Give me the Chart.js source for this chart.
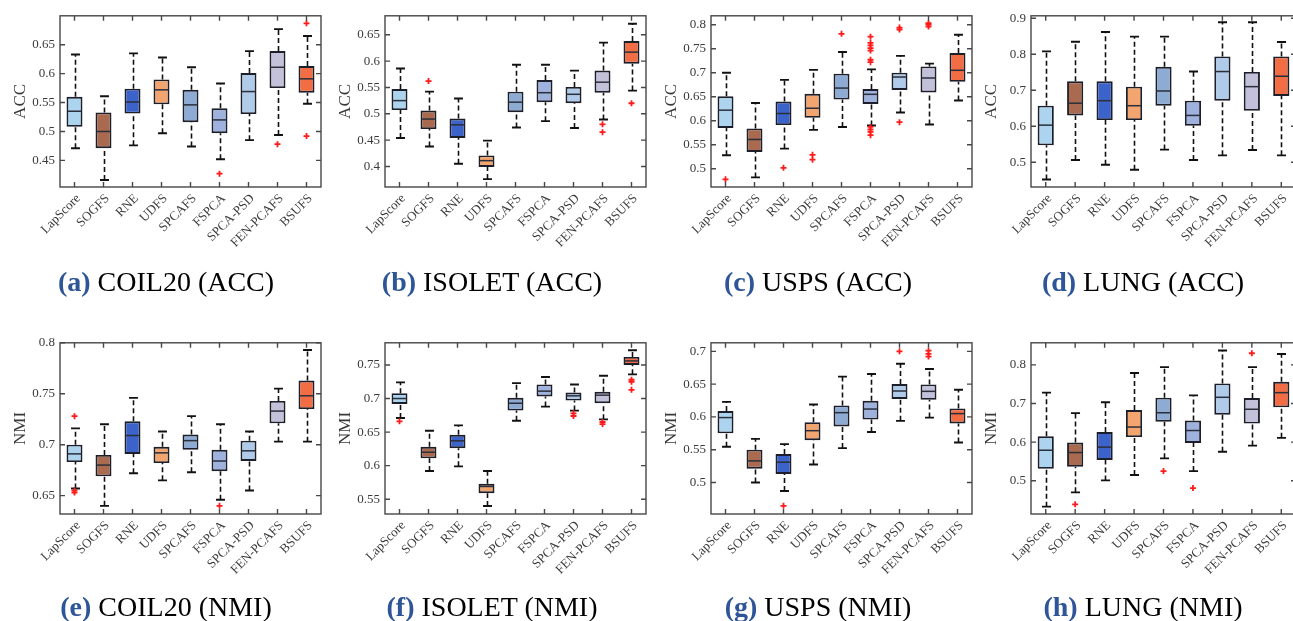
<!DOCTYPE html>
<html>
<head>
<meta charset="utf-8">
<script src="https://cdn.jsdelivr.net/npm/chart.js@4.4.1/dist/chart.umd.min.js"></script>
<style>
  html, body { margin: 0; padding: 0; background: #fff; width: 1293px; height: 621px; overflow: hidden; position: relative; }
  canvas { position: absolute; }
  .cap { position: absolute; font-family: "Liberation Serif", serif; font-size: 28px; line-height: 1; white-space: nowrap; transform: translateX(-50%); color: #000; }
  .cap b { color: #2e5597; }
</style>
</head>
<body>
<div class="cap" style="left:166px;top:268px"><b>(a)</b> COIL20 (ACC)</div>
<div class="cap" style="left:492px;top:268px"><b>(b)</b> ISOLET (ACC)</div>
<div class="cap" style="left:818px;top:268px"><b>(c)</b> USPS (ACC)</div>
<div class="cap" style="left:1143px;top:268px"><b>(d)</b> LUNG (ACC)</div>
<div class="cap" style="left:166px;top:593px"><b>(e)</b> COIL20 (NMI)</div>
<div class="cap" style="left:492px;top:593px"><b>(f)</b> ISOLET (NMI)</div>
<div class="cap" style="left:818px;top:593px"><b>(g)</b> USPS (NMI)</div>
<div class="cap" style="left:1143px;top:593px"><b>(h)</b> LUNG (NMI)</div>
<script>
const methods = ["LapScore", "SOGFS", "RNE", "UDFS", "SPCAFS", "FSPCA", "SPCA-PSD", "FEN-PCAFS", "BSUFS"];
const boxColors = ["#acd4ee", "#a96a4f", "#3b63c9", "#f2a56f", "#8eabd4", "#9fb2de", "#b0cbe9", "#c3c0d9", "#f26d44"];

// Each row: [whisker low, q1, median, q3, whisker high]; outliers: [method, value]
const coil20Acc = [
  [0.471, 0.508, 0.535, 0.560, 0.633], [0.416, 0.471, 0.500, 0.533, 0.561],
  [0.476, 0.531, 0.551, 0.574, 0.635], [0.497, 0.547, 0.572, 0.590, 0.628],
  [0.474, 0.516, 0.546, 0.572, 0.611], [0.452, 0.497, 0.520, 0.540, 0.583],
  [0.485, 0.530, 0.569, 0.601, 0.639], [0.494, 0.575, 0.611, 0.639, 0.677],
  [0.548, 0.567, 0.591, 0.613, 0.665]
];
const coil20AccOut = [["FSPCA", 0.427], ["FEN-PCAFS", 0.478], ["BSUFS", 0.687], ["BSUFS", 0.492]];
const coil20AccTicks = [0.45, 0.5, 0.55, 0.6, 0.65];

const isoletAcc = [
  [0.454, 0.507, 0.525, 0.547, 0.586], [0.438, 0.471, 0.490, 0.506, 0.542],
  [0.405, 0.454, 0.479, 0.491, 0.529], [0.376, 0.399, 0.411, 0.421, 0.449],
  [0.474, 0.503, 0.522, 0.542, 0.593], [0.486, 0.522, 0.540, 0.564, 0.593],
  [0.473, 0.520, 0.537, 0.551, 0.582], [0.489, 0.540, 0.560, 0.582, 0.635],
  [0.544, 0.595, 0.617, 0.638, 0.671]
];
const isoletAccOut = [["SOGFS", 0.562], ["FEN-PCAFS", 0.480], ["FEN-PCAFS", 0.465], ["BSUFS", 0.520]];
const isoletAccTicks = [0.4, 0.45, 0.5, 0.55, 0.6, 0.65];

const uspsAcc = [
  [0.528, 0.585, 0.622, 0.651, 0.700], [0.482, 0.535, 0.561, 0.584, 0.637],
  [0.542, 0.591, 0.615, 0.640, 0.685], [0.581, 0.606, 0.626, 0.656, 0.706],
  [0.587, 0.644, 0.668, 0.698, 0.743], [0.590, 0.635, 0.655, 0.666, 0.707],
  [0.617, 0.664, 0.691, 0.700, 0.735], [0.592, 0.659, 0.689, 0.713, 0.719],
  [0.642, 0.681, 0.705, 0.741, 0.779]
];
const uspsAccOut = [
  ["LapScore", 0.478], ["RNE", 0.502], ["UDFS", 0.529], ["UDFS", 0.519], ["SPCAFS", 0.781],
  ["FSPCA", 0.775], ["FSPCA", 0.762], ["FSPCA", 0.757], ["FSPCA", 0.751], ["FSPCA", 0.746],
  ["FSPCA", 0.727], ["FSPCA", 0.722], ["FSPCA", 0.587], ["FSPCA", 0.582], ["FSPCA", 0.577],
  ["FSPCA", 0.570], ["SPCA-PSD", 0.794], ["SPCA-PSD", 0.790], ["SPCA-PSD", 0.597],
  ["FEN-PCAFS", 0.803], ["FEN-PCAFS", 0.800], ["FEN-PCAFS", 0.796]
];
const uspsAccTicks = [0.5, 0.55, 0.6, 0.65, 0.7, 0.75, 0.8];

const lungAcc = [
  [0.452, 0.547, 0.603, 0.657, 0.808], [0.506, 0.630, 0.664, 0.725, 0.835],
  [0.493, 0.617, 0.671, 0.725, 0.862], [0.479, 0.617, 0.657, 0.710, 0.849],
  [0.535, 0.657, 0.698, 0.765, 0.849], [0.506, 0.601, 0.630, 0.671, 0.752],
  [0.519, 0.671, 0.752, 0.794, 0.889], [0.534, 0.643, 0.710, 0.751, 0.889],
  [0.519, 0.684, 0.739, 0.794, 0.834]
];
const lungAccOut = [];
const lungAccTicks = [0.5, 0.6, 0.7, 0.8, 0.9];

const coil20Nmi = [
  [0.657, 0.683, 0.691, 0.700, 0.716], [0.640, 0.669, 0.680, 0.690, 0.720],
  [0.672, 0.691, 0.709, 0.723, 0.746], [0.665, 0.682, 0.692, 0.698, 0.713],
  [0.673, 0.695, 0.704, 0.710, 0.728], [0.646, 0.674, 0.684, 0.695, 0.720],
  [0.655, 0.684, 0.694, 0.704, 0.713], [0.703, 0.721, 0.733, 0.743, 0.755],
  [0.703, 0.735, 0.748, 0.763, 0.793]
];
const coil20NmiOut = [["LapScore", 0.728], ["LapScore", 0.655], ["LapScore", 0.653], ["FSPCA", 0.640]];
const coil20NmiTicks = [0.65, 0.7, 0.75, 0.8];

const isoletNmi = [
  [0.671, 0.692, 0.700, 0.708, 0.724], [0.592, 0.611, 0.620, 0.628, 0.652],
  [0.599, 0.626, 0.637, 0.646, 0.660], [0.540, 0.559, 0.569, 0.573, 0.592],
  [0.667, 0.682, 0.693, 0.701, 0.723], [0.688, 0.703, 0.711, 0.721, 0.732],
  [0.682, 0.697, 0.704, 0.709, 0.721], [0.669, 0.693, 0.705, 0.710, 0.734],
  [0.736, 0.750, 0.756, 0.762, 0.772]
];
const isoletNmiOut = [
  ["LapScore", 0.666], ["SPCA-PSD", 0.678], ["SPCA-PSD", 0.674], ["FEN-PCAFS", 0.665],
  ["FEN-PCAFS", 0.662], ["BSUFS", 0.728], ["BSUFS", 0.725], ["BSUFS", 0.713]
];
const isoletNmiTicks = [0.55, 0.6, 0.65, 0.7, 0.75];

const uspsNmi = [
  [0.5545, 0.575, 0.599, 0.609, 0.623], [0.500, 0.521, 0.533, 0.550, 0.5665],
  [0.487, 0.513, 0.531, 0.5435, 0.5585], [0.5275, 0.5645, 0.579, 0.592, 0.619],
  [0.5525, 0.5855, 0.6065, 0.6175, 0.6615], [0.577, 0.596, 0.612, 0.6245, 0.6655],
  [0.594, 0.6275, 0.6395, 0.650, 0.681], [0.599, 0.626, 0.639, 0.6495, 0.673],
  [0.561, 0.590, 0.605, 0.613, 0.6415]
];
const uspsNmiOut = [["RNE", 0.4645], ["SPCA-PSD", 0.700], ["FEN-PCAFS", 0.701], ["FEN-PCAFS", 0.696], ["FEN-PCAFS", 0.692]];
const uspsNmiTicks = [0.5, 0.55, 0.6, 0.65, 0.7];

const lungNmi = [
  [0.433, 0.531, 0.579, 0.615, 0.728], [0.470, 0.536, 0.573, 0.599, 0.675],
  [0.501, 0.554, 0.587, 0.626, 0.703], [0.515, 0.613, 0.639, 0.683, 0.779],
  [0.558, 0.653, 0.676, 0.715, 0.794], [0.525, 0.598, 0.630, 0.656, 0.721],
  [0.575, 0.671, 0.716, 0.752, 0.837], [0.591, 0.648, 0.685, 0.714, 0.794],
  [0.611, 0.690, 0.728, 0.756, 0.828]
];
const lungNmiOut = [["SOGFS", 0.439], ["SPCAFS", 0.525], ["FSPCA", 0.481], ["FEN-PCAFS", 0.830]];
const lungNmiTicks = [0.5, 0.6, 0.7, 0.8];

const SERIF = "'Liberation Serif', 'Times New Roman', serif";
const TEXT = "#3a3a3a";
const AXIS_W = 50;   // ancho reservado para el eje y
const PAD_T = 10;
const PAD_R = 12;
const XAXIS_H = 80;
const PLOT_H = 174;

// bigotes, medianas y marco estilo MATLAB dibujados con las escalas de Chart.js
const boxPlot = (stats) => ({
  id: "boxplot",
  beforeDatasetsDraw(chart) {
    const { ctx, scales: { x, y } } = chart;
    const bars = chart.getDatasetMeta(0).data;
    ctx.save();
    ctx.strokeStyle = "#111";
    stats.forEach((s, i) => {
      const cx = Math.round(x.getPixelForValue(i)) + 0.5;
      const half = bars[i].width * 0.28;
      ctx.lineWidth = 1.6;
      ctx.setLineDash([5, 3]);
      ctx.beginPath();
      ctx.moveTo(cx, y.getPixelForValue(s[0]));
      ctx.lineTo(cx, y.getPixelForValue(s[1]));
      ctx.moveTo(cx, y.getPixelForValue(s[3]));
      ctx.lineTo(cx, y.getPixelForValue(s[4]));
      ctx.stroke();
      ctx.setLineDash([]);
      ctx.lineWidth = 1.9;
      ctx.beginPath();
      [s[0], s[4]].forEach(v => {
        const py = y.getPixelForValue(v);
        ctx.moveTo(cx - half, py);
        ctx.lineTo(cx + half, py);
      });
      ctx.stroke();
    });
    ctx.restore();
  },
  afterDatasetsDraw(chart) {
    const { ctx, scales: { x, y } } = chart;
    const bars = chart.getDatasetMeta(0).data;
    ctx.save();
    ctx.strokeStyle = "#2b2f3a";
    ctx.lineWidth = 1.5;
    stats.forEach((s, i) => {
      const cx = x.getPixelForValue(i);
      const half = bars[i].width / 2 - 1;
      const py = y.getPixelForValue(s[2]);
      ctx.beginPath();
      ctx.moveTo(cx - half, py);
      ctx.lineTo(cx + half, py);
      ctx.stroke();
    });
    ctx.restore();
  },
  afterDraw(chart) {
    const { ctx, chartArea: a, scales: { x, y } } = chart;
    ctx.save();
    ctx.strokeStyle = "#474747";
    ctx.lineWidth = 1.4;
    ctx.strokeRect(a.left, a.top, a.right - a.left, a.bottom - a.top);
    ctx.beginPath();
    y.ticks.forEach(t => {
      const py = y.getPixelForValue(t.value);
      ctx.moveTo(a.left, py); ctx.lineTo(a.left + 5, py);
      ctx.moveTo(a.right, py); ctx.lineTo(a.right - 5, py);
    });
    methods.forEach((_, i) => {
      const px = x.getPixelForValue(i);
      ctx.moveTo(px, a.bottom); ctx.lineTo(px, a.bottom - 5);
      ctx.moveTo(px, a.top); ctx.lineTo(px, a.top + 5);
    });
    ctx.stroke();
    ctx.restore();
  }
});

const panels = [
  { stats: coil20Acc, out: coil20AccOut, ticks: coil20AccTicks, min: 0.404, max: 0.70, title: "ACC", left: 60, top: 13, width: 261 },
  { stats: isoletAcc, out: isoletAccOut, ticks: isoletAccTicks, min: 0.361, max: 0.686, title: "ACC", left: 385, top: 13, width: 261 },
  { stats: uspsAcc, out: uspsAccOut, ticks: uspsAccTicks, min: 0.462, max: 0.8185, title: "ACC", left: 711, top: 13, width: 261 },
  { stats: lungAcc, out: lungAccOut, ticks: lungAccTicks, min: 0.431, max: 0.907, title: "ACC", left: 1031, top: 13, width: 265 },
  { stats: coil20Nmi, out: coil20NmiOut, ticks: coil20NmiTicks, min: 0.632, max: 0.80, title: "NMI", left: 60, top: 340, width: 261 },
  { stats: isoletNmi, out: isoletNmiOut, ticks: isoletNmiTicks, min: 0.528, max: 0.783, title: "NMI", left: 385, top: 340, width: 261 },
  { stats: uspsNmi, out: uspsNmiOut, ticks: uspsNmiTicks, min: 0.452, max: 0.713, title: "NMI", left: 711, top: 340, width: 261 },
  { stats: lungNmi, out: lungNmiOut, ticks: lungNmiTicks, min: 0.414, max: 0.857, title: "NMI", left: 1031, top: 340, width: 265 }
];

panels.forEach(p => {
  const canvas = document.createElement("canvas");
  canvas.width = p.width + AXIS_W + PAD_R;
  canvas.height = PAD_T + PLOT_H + XAXIS_H;
  canvas.style.left = (p.left - AXIS_W) + "px";
  canvas.style.top = (p.top - PAD_T) + "px";
  document.body.insertBefore(canvas, document.body.firstChild);

  new Chart(canvas, {
    type: "bar",
    data: {
      labels: methods,
      datasets: [
        {
          type: "bar",
          data: p.stats.map(s => [s[1], s[3]]),
          backgroundColor: boxColors,
          borderColor: "#1c1e2a",
          borderWidth: 1.9,
          borderSkipped: false,
          barPercentage: 0.55,
          categoryPercentage: 1,
          order: 2
        },
        {
          type: "scatter",
          data: p.out.map(([m, v]) => ({ x: m, y: v })),
          pointStyle: "cross",
          radius: 3,
          borderWidth: 1.8,
          borderColor: "#ff1a1a",
          backgroundColor: "#ff1a1a",
          order: 1
        }
      ]
    },
    options: {
      responsive: false,
      animation: false,
      layout: { padding: { top: PAD_T, right: PAD_R, left: 0, bottom: 0 } },
      plugins: { legend: { display: false }, tooltip: { enabled: false } },
      scales: {
        x: {
          type: "category",
          offset: true,
          grid: { display: false, drawTicks: false },
          border: { display: false },
          ticks: { autoSkip: false, minRotation: 45, maxRotation: 45, padding: 4, labelOffset: 4, color: TEXT, font: { family: SERIF, size: 13 } },
          afterFit: s => { s.height = XAXIS_H; }
        },
        y: {
          type: "linear",
          min: p.min,
          max: p.max,
          grid: { display: false, drawTicks: false },
          border: { display: false },
          afterBuildTicks: s => { s.ticks = p.ticks.map(v => ({ value: v })); },
          ticks: { padding: 5, color: TEXT, font: { family: SERIF, size: 13 }, callback: v => String(+v.toFixed(3)) },
          title: { display: true, text: p.title, color: TEXT, font: { family: SERIF, size: 17 }, padding: 0 },
          afterFit: s => { s.width = AXIS_W; }
        }
      }
    },
    plugins: [boxPlot(p.stats)]
  });
});
</script>
</body>
</html>
